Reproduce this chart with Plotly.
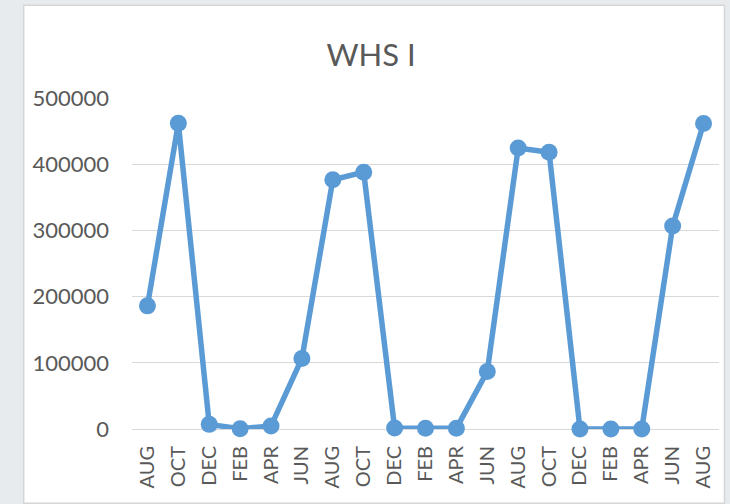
import plotly.graph_objects as go

# Data
months = ["AUG", "OCT", "DEC", "FEB", "APR", "JUN",
          "AUG", "OCT", "DEC", "FEB", "APR", "JUN",
          "AUG", "OCT", "DEC", "FEB", "APR", "JUN",
          "AUG"]
values = [186000, 462000, 7000, 500, 4500, 106500,
          376500, 388000, 1500, 1000, 1000, 87000,
          424500, 418000, 0, 0, 0, 306500,
          461500]
y_ticks = [0, 100000, 200000, 300000, 400000, 500000]
title_text = "WHS I"

positions = list(range(len(months)))

W, H = 730, 504
plot_l, plot_r = 131.5, 719.5
plot_t, plot_b = 97.7, 428.7
pw = plot_r - plot_l
ph = plot_b - plot_t


def px_x(px):
    return (px - plot_l) / pw


def px_y(py):
    return (plot_b - py) / ph


FONT = "Lato, 'Open Sans', sans-serif"
GRAY = "#595959"

fig = go.Figure()
fig.add_trace(go.Scatter(
    x=positions, y=values, mode="lines+markers",
    line=dict(color="#5B9BD5", width=5.5),
    marker=dict(color="#5B9BD5", size=17),
    cliponaxis=False, hoverinfo="skip", showlegend=False,
))

fig.update_layout(
    width=W, height=H,
    margin=dict(l=plot_l, r=W - plot_r, t=plot_t, b=H - plot_b, pad=0, autoexpand=False),
    paper_bgcolor="#e8ebee",
    plot_bgcolor="white",
    font=dict(family=FONT, color=GRAY),
    title=dict(text=title_text, x=371 / W, xref="container", xanchor="center",
               y=1 - 55 / H, yref="container", yanchor="middle",
               font=dict(family=FONT, size=31, color=GRAY)),
    xaxis=dict(
        range=[-0.5, len(months) - 0.5],
        tickmode="array", tickvals=positions, ticktext=months,
        tickangle=-90, showgrid=False, zeroline=False, showline=False,
        ticks="", tickfont=dict(size=20, color=GRAY),
        ticklabelstandoff=12, fixedrange=True, automargin=False,
    ),
    yaxis=dict(
        range=[0, 500000], tickmode="array", tickvals=y_ticks,
        ticktext=[str(v) for v in y_ticks],
        showgrid=True, gridcolor="#d9d9d9", gridwidth=1.3,
        zeroline=True, zerolinecolor="#d9d9d9", zerolinewidth=1.3,
        showline=False, ticks="", tickfont=dict(size=22, color=GRAY),
        ticklabelstandoff=22, fixedrange=True, automargin=False,
    ),
    shapes=[dict(
        type="rect", xref="paper", yref="paper", layer="below",
        x0=px_x(23), x1=px_x(725), y0=px_y(503), y1=px_y(5),
        fillcolor="white", line=dict(color="#d6d6d6", width=1.5),
    )],
)

fig.write_html("out.html", config={"displayModeBar": False},
               post_script="document.body.style.margin='0';document.body.style.overflow='hidden';")
